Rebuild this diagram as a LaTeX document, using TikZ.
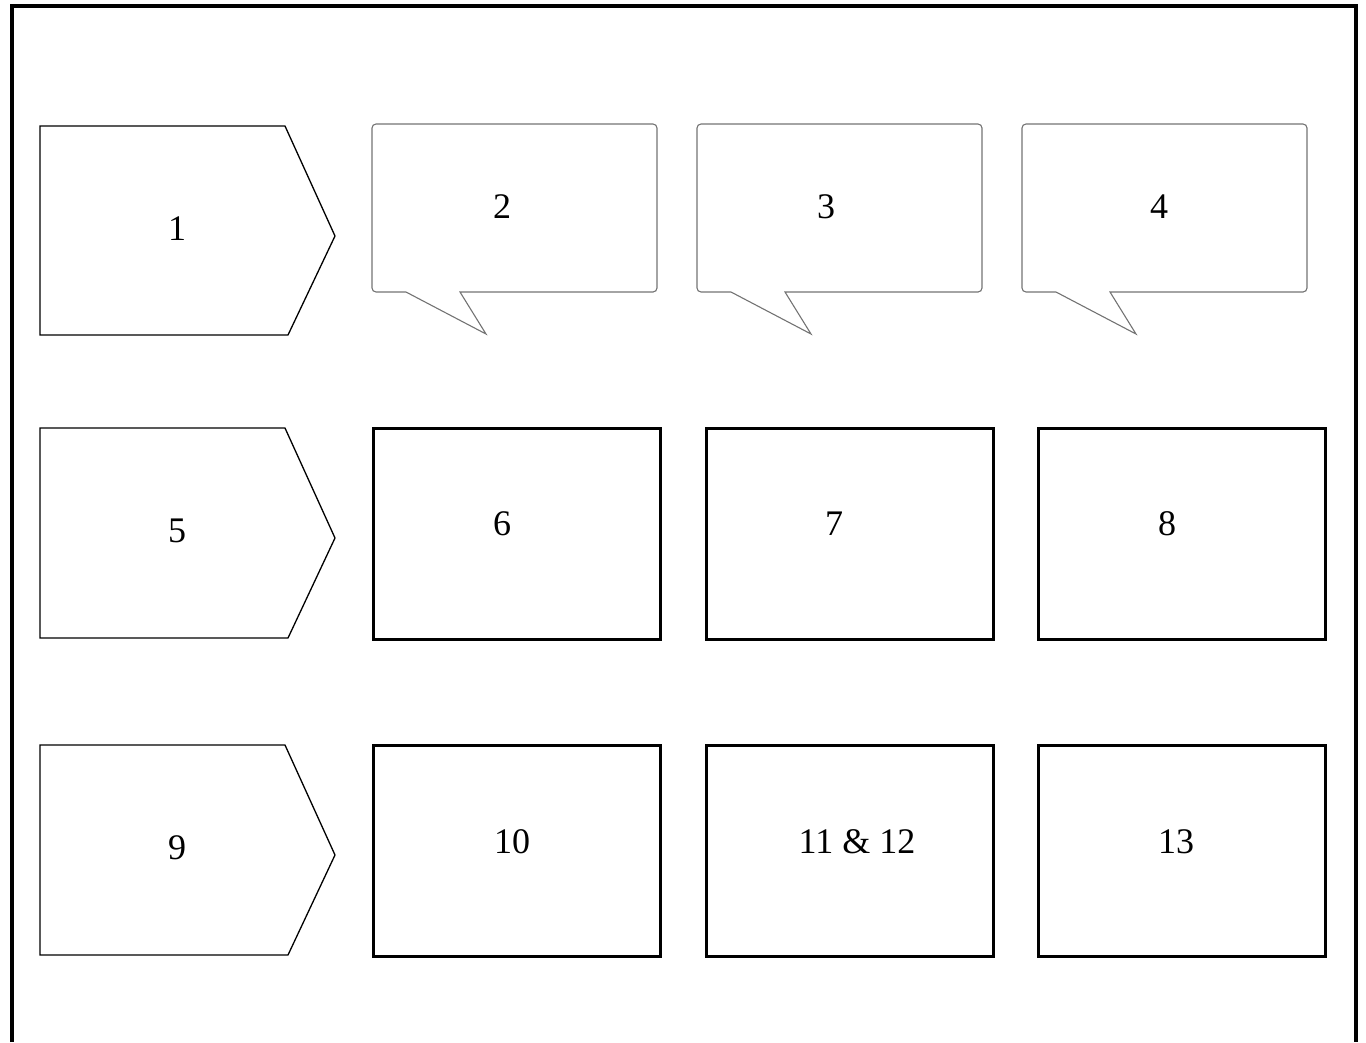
\documentclass[tikz,border=0pt]{standalone}
\usepackage{fontspec}
\setmainfont{Liberation Serif}
\usetikzlibrary{calc, positioning}

\begin{document}
\begin{tikzpicture}[x=1pt, y=-1pt,
					framebox/.style={
						line width=4pt
					},
					stagebox/.style={
						draw,
						line width=1.3pt,
						line join=miter
					},
					bubblebox/.style={
						draw=black!55,
						line width=1.1pt
					},
					cellbox/.style={
						draw,
						rectangle,
						line width=3pt,
						minimum width=287pt,
						minimum height=211pt,
						inner sep=0pt
					},
					numtext/.style={
						font=\fontsize{36}{42}\selectfont,
						inner sep=0pt
					}
					]
					\useasboundingbox (0,0) rectangle (1366,1042);
					
					% Outer frame
					\draw [framebox] (12,1042) -- (12,5.5) -- (1356,5.5) -- (1356,1042);
					
					% Stage arrows (left column)
					\draw [stagebox] (40,126) -- (285,126) -- (335,236) -- (288,335) -- (40,335) -- cycle;
					\draw [stagebox] (40,428) -- (285,428) -- (335,538) -- (288,638) -- (40,638) -- cycle;
					\draw [stagebox] (40,745) -- (285,745) -- (335,855) -- (288,955) -- (40,955) -- cycle;
					
					% Speech bubbles (top row)
					\foreach \x in {372, 697, 1022}{
						\draw [bubblebox] (\x+88,292)
						[rounded corners=4pt] -- (\x+285,292) -- (\x+285,124) -- (\x,124) -- (\x,292)
						[sharp corners] -- (\x+34,292) -- (\x+114,334) -- cycle;
					}
					
					% Boxes (middle and bottom rows)
					\node (b6) [cellbox] at (516.5,533.5) {};
					\node (b7) [cellbox] at (849.5,533.5) {};
					\node (b8) [cellbox] at (1182,533.5) {};
					\node (b10) [cellbox] at (516.5,851) {};
					\node (b11) [cellbox] at (849.5,851) {};
					\node (b13) [cellbox] at (1182,851) {};
					
					% Numbers
					\node (n1) [numtext] at (177,229) {1};
					\node (n2) [numtext] at (502,207) {2};
					\node (n3) [numtext] at (826,207) {3};
					\node (n4) [numtext] at (1159,207) {4};
					\node (n5) [numtext] at (177,531) {5};
					\node (n6) [numtext] at (502,524) {6};
					\node (n7) [numtext] at (834,524) {7};
					\node (n8) [numtext] at (1167,524) {8};
					\node (n9) [numtext] at (177,848) {9};
					\node (n10) [numtext] at (512,842) {10};
					\node (n11) [numtext] at (857,842) {11 \& 12};
					\node (n13) [numtext] at (1176,842) {13};
					
\end{tikzpicture}
\end{document}
